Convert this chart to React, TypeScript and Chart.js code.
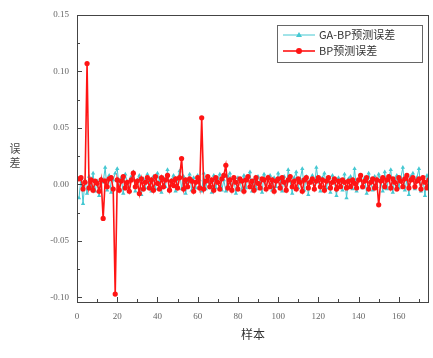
import React, { useEffect, useRef } from "react";
import { Chart, registerables } from "chart.js";

Chart.register(...registerables);

const bpErrors = [
  0.005, 0.006, -0.004, 0.002, 0.107, -0.003, 0.004, -0.005, 0.003, 0.001,
  -0.006, 0.004, -0.030, 0.003, -0.002, 0.005, 0.006, -0.004, -0.097, 0.004,
  -0.005, 0.003, 0.007, -0.003, 0.002, -0.006, 0.004, 0.010, -0.002, 0.003,
  -0.008, 0.005, -0.004, 0.002, 0.006, -0.003, 0.004, -0.005, 0.007, 0.001,
  -0.004, 0.006, -0.002, 0.004, 0.008, -0.005, 0.003, -0.001, 0.005, -0.003,
  0.006, 0.023, -0.004, 0.004, -0.002, 0.005, 0.003, -0.006, 0.002, 0.006,
  -0.003, 0.059, -0.004, 0.003, 0.007, -0.002, 0.004, -0.005, 0.006, 0.002,
  -0.004, 0.005, 0.008, 0.017, -0.003, 0.004, -0.005, 0.006, 0.002, -0.004,
  0.005, 0.003, -0.006, 0.004, 0.007, -0.002, 0.003, -0.005, 0.006, 0.001,
  -0.003, 0.005, 0.004, -0.004, 0.006, -0.002, 0.004, -0.006, 0.003, 0.005,
  -0.003, 0.006, 0.002, -0.005, 0.004, 0.007, -0.002, 0.003, -0.004, 0.005,
  0.002, -0.006, 0.004, 0.006, -0.003, 0.002, 0.005, -0.004, 0.003, 0.006,
  -0.002, 0.004, -0.005, 0.003, 0.006, -0.003, 0.002, 0.005, -0.004, 0.003,
  -0.002, 0.004, 0.002, -0.003, 0.003, -0.002, 0.004, 0.001, -0.003, 0.004,
  0.008, -0.002, 0.003, 0.006, -0.004, 0.002, 0.005, -0.003, 0.004, -0.018,
  0.003, 0.006, -0.002, 0.004, 0.007, -0.003, 0.005, 0.002, -0.004, 0.006,
  0.003, -0.002, 0.005, 0.008, -0.003, 0.004, 0.006, -0.002, 0.003, 0.005,
  -0.004, 0.006, 0.002, -0.003, 0.004,
];

const gaBpErrors = [
  -0.012, 0.006, -0.017, 0.004, -0.008, 0.007, -0.004, 0.010, -0.006, 0.003,
  -0.010, 0.005, 0.002, 0.015, -0.005, 0.008, -0.007, 0.004, 0.010, 0.014,
  -0.003, 0.006, -0.008, 0.009, 0.002, -0.005, 0.007, 0.011, -0.006, 0.004,
  0.008, -0.009, 0.005, -0.003, 0.009, 0.002, -0.006, 0.007, -0.004, 0.010,
  0.003, -0.007, 0.006, -0.002, 0.013, -0.005, 0.004, 0.008, -0.006, 0.005,
  0.012, -0.004, 0.007, -0.008, 0.003, 0.009, -0.005, 0.006, -0.003, 0.008,
  0.004, -0.006, 0.010, -0.004, 0.006, 0.002, -0.007, 0.008, -0.003, 0.005,
  0.009, -0.005, 0.004, -0.006, 0.007, 0.010, -0.004, 0.005, -0.008, 0.006,
  0.003, -0.005, 0.008, -0.003, 0.006, 0.011, -0.006, 0.004, -0.004, 0.007,
  0.002, -0.007, 0.009, -0.003, 0.005, 0.008, -0.005, 0.006, -0.002, 0.010,
  0.004, -0.006, 0.007, -0.004, 0.013, 0.003, -0.008, 0.006, 0.011, -0.003,
  0.005, 0.014, -0.005, 0.007, -0.009, 0.004, 0.008, -0.004, 0.015, 0.003,
  -0.006, 0.006, 0.010, -0.003, 0.005, -0.007, 0.008, 0.002, -0.010, 0.006,
  0.004, -0.005, 0.009, -0.012, 0.005, 0.007, -0.004, 0.014, -0.006, 0.004,
  0.008, -0.003, 0.006, -0.008, 0.010, 0.003, -0.005, 0.007, -0.002, 0.009,
  0.004, -0.006, 0.011, -0.004, 0.006, 0.013, -0.007, 0.005, 0.008, -0.003,
  0.006, 0.015, -0.005, 0.004, -0.009, 0.007, 0.010, -0.004, 0.006, 0.014,
  -0.006, 0.005, -0.010, 0.008, -0.003,
];

const seriesNames = ["GA-BP预测误差", "BP预测误差"];
const xTickValues = [0, 20, 40, 60, 80, 100, 120, 140, 160];
const xMinorValues = [10, 30, 50, 70, 90, 110, 130, 150, 170];
const yTickValues = [-0.1, -0.05, 0, 0.05, 0.1, 0.15];
const yMinorValues = [-0.075, -0.025, 0.025, 0.075, 0.125];
const xAxisTitle = "样本";
const yAxisTitle = ["误", "差"];

const CYAN = "#45c8d2";
const RED = "#ff1414";
const SERIF = "'Liberation Serif', 'DejaVu Serif', serif";
const CJK = "'Noto Sans CJK SC', sans-serif";

const framePlugin = {
  id: "frame",
  afterDatasetsDraw(chart: any) {
    const { ctx, chartArea } = chart;
    const xs = chart.scales.x;
    const ys = chart.scales.y;
    ctx.save();
    ctx.strokeStyle = "#444";
    ctx.lineWidth = 1;
    ctx.strokeRect(chartArea.left + 0.5, chartArea.top + 0.5, chartArea.right - chartArea.left - 1, chartArea.bottom - chartArea.top);
    ctx.beginPath();
    xTickValues.forEach((v) => {
      const px = Math.round(xs.getPixelForValue(v)) + 0.5;
      ctx.moveTo(px, chartArea.bottom);
      ctx.lineTo(px, chartArea.bottom - 5);
    });
    xMinorValues.forEach((v) => {
      const px = Math.round(xs.getPixelForValue(v)) + 0.5;
      ctx.moveTo(px, chartArea.bottom);
      ctx.lineTo(px, chartArea.bottom - 3);
    });
    yTickValues.forEach((v) => {
      const py = Math.round(ys.getPixelForValue(v)) + 0.5;
      ctx.moveTo(chartArea.left, py);
      ctx.lineTo(chartArea.left + 5, py);
    });
    yMinorValues.forEach((v) => {
      const py = Math.round(ys.getPixelForValue(v)) + 0.5;
      ctx.moveTo(chartArea.left, py);
      ctx.lineTo(chartArea.left + 3, py);
    });
    ctx.stroke();

    // legend
    const lx = 277, ly = 25, lw = 145, lh = 37;
    ctx.fillStyle = "#fff";
    ctx.fillRect(lx, ly, lw, lh);
    ctx.strokeStyle = "#666";
    ctx.strokeRect(lx + 0.5, ly + 0.5, lw, lh);
    const rows = [
      { color: CYAN, y: ly + 10, marker: "triangle", lwid: 1 },
      { color: RED, y: ly + 26, marker: "circle", lwid: 1.6 },
    ];
    rows.forEach((r, i) => {
      ctx.strokeStyle = r.color;
      ctx.lineWidth = r.lwid;
      ctx.beginPath();
      ctx.moveTo(lx + 6, r.y);
      ctx.lineTo(lx + 38, r.y);
      ctx.stroke();
      ctx.fillStyle = r.color;
      ctx.beginPath();
      if (r.marker === "circle") {
        ctx.arc(lx + 22, r.y, 3, 0, Math.PI * 2);
      } else {
        ctx.moveTo(lx + 22, r.y - 3);
        ctx.lineTo(lx + 25, r.y + 2);
        ctx.lineTo(lx + 19, r.y + 2);
        ctx.closePath();
      }
      ctx.fill();
      ctx.fillStyle = "#333";
      ctx.font = `11px ${CJK}`;
      ctx.textBaseline = "middle";
      ctx.textAlign = "left";
      ctx.fillText(seriesNames[i], lx + 42, r.y);
    });

    // y title, stacked characters
    ctx.fillStyle = "#444";
    ctx.font = `11px ${CJK}`;
    ctx.textAlign = "center";
    ctx.textBaseline = "middle";
    yAxisTitle.forEach((c, i) => {
      ctx.fillText(c, 15, 149 + i * 14);
    });
    ctx.restore();
  },
};

export default function App() {
  const ref = useRef<HTMLCanvasElement | null>(null);

  useEffect(() => {
    if (!ref.current) return;
    const chart = new Chart(ref.current, {
      type: "line",
      data: {
        datasets: [
          {
            label: seriesNames[0],
            data: gaBpErrors.map((v, i) => ({ x: i + 1, y: v })),
            borderColor: CYAN,
            backgroundColor: CYAN,
            borderWidth: 1,
            pointStyle: "triangle",
            pointRadius: 2.5,
            pointBorderWidth: 0,
            order: 2,
          },
          {
            label: seriesNames[1],
            data: bpErrors.map((v, i) => ({ x: i + 1, y: v })),
            borderColor: RED,
            backgroundColor: RED,
            borderWidth: 1.6,
            pointStyle: "circle",
            pointRadius: 2.6,
            pointBorderWidth: 0,
            order: 1,
          },
        ],
      },
      options: {
        animation: false,
        responsive: false,
        maintainAspectRatio: false,
        layout: { padding: { top: 15, right: 2, left: 0, bottom: 14 } },
        plugins: { legend: { display: false }, tooltip: { enabled: false } },
        scales: {
          x: {
            type: "linear",
            min: 0,
            max: 175,
            afterBuildTicks: (s: any) => {
              s.ticks = xTickValues.map((v) => ({ value: v }));
            },
            afterFit: (s: any) => {
              s.height = 42;
            },
            grid: { display: false },
            border: { display: false },
            ticks: {
              color: "#666",
              font: { family: SERIF, size: 9 },
              padding: 1,
              maxRotation: 0,
              callback: (v: any) => String(v),
            },
            title: {
              display: true,
              text: xAxisTitle,
              color: "#333",
              font: { family: CJK, size: 12 },
              padding: { top: 0, bottom: 2 },
            },
          },
          y: {
            type: "linear",
            min: -0.104,
            max: 0.15,
            afterBuildTicks: (s: any) => {
              s.ticks = yTickValues.map((v) => ({ value: v }));
            },
            afterFit: (s: any) => {
              s.width = 77;
            },
            grid: { display: false },
            border: { display: false },
            ticks: {
              color: "#666",
              font: { family: SERIF, size: 9 },
              padding: 0,
              callback: (v: any) => Number(v).toFixed(2),
            },
          },
        },
      },
      plugins: [framePlugin],
    });
    return () => chart.destroy();
  }, []);

  return (
    <div style={{ position: "fixed", left: 0, top: 0, width: 433, height: 358, background: "#fff" }}>
      <canvas ref={ref} width={433} height={358} style={{ width: 433, height: 358 }} />
    </div>
  );
}
